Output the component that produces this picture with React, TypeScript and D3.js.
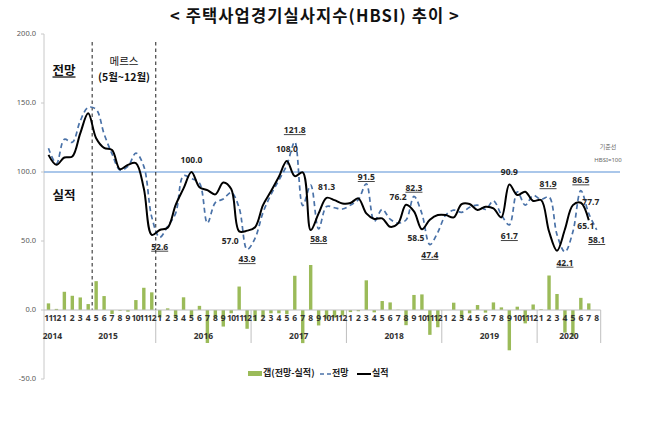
import React from 'react';
import * as d3 from 'd3';

const years = ['2014', '2015', '2016', '2017', '2018', '2019', '2020'];
const yearMonthCounts = [2, 12, 12, 12, 12, 12, 8];
const monthLabels = [
  '11', '12',
  '1', '2', '3', '4', '5', '6', '7', '8', '9', '10', '11', '12',
  '1', '2', '3', '4', '5', '6', '7', '8', '9', '10', '11', '12',
  '1', '2', '3', '4', '5', '6', '7', '8', '9', '10', '11', '12',
  '1', '2', '3', '4', '5', '6', '7', '8', '9', '10', '11', '12',
  '1', '2', '3', '4', '5', '6', '7', '8', '9', '10', '11', '12',
  '1', '2', '3', '4', '5', '6', '7', '8',
];

// 실적 (actual)
const actual: (number | null)[] = [
  112.4, 105.2,
  110.5, 111.2, 128.0, 142.5, 124.5, 117.5, 116.0, 102.0, 105.2, 106.5, 88.0, 54.5,
  58.0, 59.6, 76.0, 88.1, 100.0, 89.0, 86.9, 83.8, 92.4, 87.6, 57.0, 57.5,
  60.0, 76.0, 86.0, 96.5, 108.0, 97.0, 99.7, 57.9, 70.0, 81.3, 79.6, 77.2,
  77.5, 80.9, 70.0, 66.0, 66.4, 60.3, 62.8, 76.2, 71.4, 58.5, 65.4, 68.8,
  68.8, 67.1, 76.8, 76.8, 72.4, 74.8, 73.6, 67.1, 90.9, 83.3, 85.7, 79.0,
  79.7, 56.9, 43.0, 58.5, 76.0, 77.7, 65.1, null,
];

// 전망 (forecast)
const forecast: (number | null)[] = [
  117.2, 106.0,
  123.7, 121.5, 137.1, 146.8, 145.4, 127.6, 113.1, 101.5, 104.0, 113.7, 104.1, 67.3,
  52.6, 60.8, 70.0, 97.3, 95.2, 92.0, 63.0, 77.8, 80.4, 85.2, 74.0, 43.9,
  52.0, 70.6, 83.6, 94.1, 105.0, 121.8, 75.7, 90.5, 58.8, 75.0, 74.1, 73.2,
  76.0, 80.0, 91.5, 64.3, 72.9, 65.8, 63.0, 65.2, 82.3, 69.8, 47.4, 56.3,
  68.8, 72.4, 70.8, 74.4, 76.0, 72.9, 79.1, 69.0, 61.7, 85.7, 76.0, 83.0,
  80.2, 81.9, 54.6, 42.1, 56.7, 86.5, 69.9, 58.1,
];

// 갭 (전망-실적)
const gap: (number | null)[] = [
  4.8, 0.8,
  13.2, 10.3, 9.1, 4.3, 20.9, 10.1, -2.9, -0.5, -1.2, 7.2, 16.1, 12.8,
  -5.4, 1.2, -6.0, 9.2, -4.8, 3.0, -23.9, -6.0, -12.0, -2.4, 17.0, -13.6,
  -8.0, -5.4, -2.4, -2.4, -3.0, 24.8, -24.0, 32.6, -11.2, -6.3, -5.5, -4.0,
  -1.5, -0.9, 21.5, -1.7, 6.5, 5.5, 0.2, -11.0, 10.9, 11.3, -18.0, -12.5,
  0.0, 5.3, -6.0, -2.4, 3.6, -1.9, 5.5, 1.9, -29.2, 2.4, -9.7, 4.0,
  0.5, 25.0, 11.6, -16.4, -19.3, 8.8, 4.8, null,
];

const yTicks = [200, 150, 100, 50, 0, -50];

// data labels: index, series ('F' forecast underlined, 'A' actual), offset of label centre
const dataLabels = [
  { i: 18, s: 'A', dx: 0, dy: -11.5 },
  { i: 14, s: 'F', dx: 0, dy: 10 },
  { i: 24, s: 'A', dx: -9, dy: 10 },
  { i: 25, s: 'F', dx: 0, dy: 10.5 },
  { i: 30, s: 'A', dx: 0, dy: -11 },
  { i: 31, s: 'F', dx: 0, dy: -11 },
  { i: 34, s: 'F', dx: 0, dy: 11 },
  { i: 35, s: 'A', dx: 0, dy: -10 },
  { i: 40, s: 'F', dx: 0, dy: -6 },
  { i: 45, s: 'A', dx: -8, dy: -7 },
  { i: 46, s: 'F', dx: 0, dy: -8 },
  { i: 47, s: 'A', dx: -6, dy: 9 },
  { i: 48, s: 'F', dx: 0, dy: 11 },
  { i: 58, s: 'A', dx: 0, dy: -12 },
  { i: 58, s: 'F', dx: 0, dy: 12 },
  { i: 63, s: 'F', dx: -1, dy: -12 },
  { i: 65, s: 'F', dx: 0, dy: 11.5 },
  { i: 67, s: 'F', dx: 0, dy: -9.5 },
  { i: 67, s: 'A', dx: 10, dy: 0 },
  { i: 68, s: 'A', dx: -3, dy: 7 },
  { i: 69, s: 'F', dx: 0, dy: 11 },
];

const KR = '"Noto Sans CJK KR", "Noto Sans", sans-serif';
const NUM = '"Noto Sans", "Liberation Sans", Arial, sans-serif';

export default function App() {
  const W = 658;
  const H = 423;
  const idx = d3.range(monthLabels.length);
  const x = d3.scaleBand<number>().domain(idx).range([44.5, 600.7]).padding(0);
  const bw = x.bandwidth();
  const cx = (i: number) => (x(i) as number) + bw / 2;
  const y = d3.scaleLinear().domain([-50, 200]).range([379, 34]);

  const curve = d3.curveCatmullRom.alpha(0.5);
  const lineGen = d3
    .line<number | null>()
    .defined((d) => d != null)
    .x((_, i) => cx(i))
    .y((d) => y(d as number))
    .curve(curve);

  const actualPath = lineGen(actual) || '';
  const forecastPath = lineGen(forecast) || '';

  // year boundaries
  const boundaries: number[] = [];
  let acc = 0;
  const yearCenters: number[] = [];
  yearMonthCounts.forEach((n) => {
    const start = x(acc) as number;
    acc += n;
    const end = acc < idx.length ? (x(acc) as number) : 600.7;
    yearCenters.push((start + end) / 2);
    boundaries.push(end);
  });

  const x0 = 44;
  const axisY = y(0);
  const barW = 3.4;

  return (
    <svg
      width={W}
      height={H}
      style={{ position: 'absolute', left: 0, top: 0, background: '#fff' }}
    >
      <rect x={0} y={0} width={W} height={H} fill="#fff" />
      {/* title */}
      <text
        x={315}
        y={18}
        textAnchor="middle"
        dominantBaseline="middle"
        fontFamily={KR}
        fontWeight={700}
        fontSize={16.5}
        letterSpacing={1.1}
        fill="#111"
      >
        {'<  주택사업경기실사지수(HBSI)  추이  >'}
      </text>

      {/* y axis */}
      <line x1={x0} x2={x0} y1={y(200)} y2={y(-50)} stroke="#c8c8c8" strokeWidth={1} />
      {yTicks.map((t) => (
        <g key={t}>
          <line x1={x0 - 3} x2={x0} y1={y(t)} y2={y(t)} stroke="#c8c8c8" />
          <text
            x={36}
            y={y(t)}
            textAnchor="end"
            dominantBaseline="middle"
            fontFamily={NUM}
            fontSize={7.5}
            fill="#595959"
          >
            {t.toFixed(1)}
          </text>
        </g>
      ))}

      {/* reference line 100 */}
      <line x1={x0} x2={620} y1={y(100)} y2={y(100)} stroke="#8eb4e3" strokeWidth={1.3} />
      <text x={608} y={147} textAnchor="middle" dominantBaseline="middle" fontFamily={KR} fontSize={6} fill="#666">
        기준선
      </text>
      <text x={608} y={160} textAnchor="middle" dominantBaseline="middle" fontFamily={NUM} fontSize={6} fill="#666">
        HBSI=100
      </text>

      {/* MERS dashed lines */}
      {[6, 14].map((k) => (
        <line
          key={k}
          x1={x(k) as number}
          x2={x(k) as number}
          y1={42}
          y2={axisY}
          stroke="#333"
          strokeWidth={1.1}
          strokeDasharray="3.5,3"
        />
      ))}

      {/* bars */}
      {gap.map((g, i) =>
        g == null ? null : (
          <rect
            key={i}
            x={cx(i) - barW / 2}
            y={Math.min(y(g), axisY)}
            width={barW}
            height={Math.abs(y(g) - axisY)}
            fill="#9bbb59"
          />
        )
      )}

      {/* category axis */}
      <line x1={x0} x2={600.7} y1={axisY} y2={axisY} stroke="#bfbfbf" strokeWidth={1} />
      {boundaries.slice(1).map((b, k) => (
        <line key={k} x1={b} x2={b} y1={axisY} y2={343} stroke="#bfbfbf" strokeWidth={1} />
      ))}
      {monthLabels.map((m, i) => (
        <text
          key={i}
          x={cx(i)}
          y={319}
          textAnchor="middle"
          dominantBaseline="middle"
          fontFamily={NUM}
          fontWeight={700}
          fontSize={8.5}
          letterSpacing={m.length > 1 ? -0.6 : 0}
          fill="#333"
        >
          {m}
        </text>
      ))}
      {years.map((yr, k) => (
        <text
          key={yr}
          x={yearCenters[k]}
          y={337}
          textAnchor="middle"
          dominantBaseline="middle"
          fontFamily={NUM}
          fontWeight={700}
          fontSize={8.5}
          fill="#333"
        >
          {yr}
        </text>
      ))}

      {/* lines */}
      <path d={forecastPath} fill="none" stroke="#4a72a8" strokeWidth={1.7} strokeDasharray="5,3.5" />
      <path d={actualPath} fill="none" stroke="#000" strokeWidth={2} />

      {/* data labels */}
      {dataLabels.map((l, k) => {
        const v = (l.s === 'F' ? forecast[l.i] : actual[l.i]) as number;
        return (
          <text
            key={k}
            x={cx(l.i) + l.dx}
            y={y(v) + l.dy}
            textAnchor="middle"
            dominantBaseline="middle"
            fontFamily={NUM}
            fontWeight={700}
            fontSize={8.5}
            fill="#262626"
            textDecoration={l.s === 'F' ? 'underline' : undefined}
          >
            {v.toFixed(1)}
          </text>
        );
      })}

      {/* annotations */}
      <text x={64} y={72} textAnchor="middle" dominantBaseline="middle" fontFamily={KR} fontWeight={700} fontSize={12.5} fill="#111" textDecoration="underline">
        전망
      </text>
      <text x={64} y={197} textAnchor="middle" dominantBaseline="middle" fontFamily={KR} fontWeight={700} fontSize={12.5} fill="#111">
        실적
      </text>
      <text x={124} y={62} textAnchor="middle" dominantBaseline="middle" fontFamily={KR} fontSize={10.5} fill="#111">
        메르스
      </text>
      <text x={124} y={78} textAnchor="middle" dominantBaseline="middle" fontFamily={KR} fontWeight={700} fontSize={10.5} fill="#111">
        (5월~12월)
      </text>

      {/* legend */}
      <rect x={248} y={371} width={14} height={5} fill="#9bbb59" />
      <text x={263} y={374} dominantBaseline="middle" fontFamily={KR} fontWeight={700} fontSize={9} fill="#222">
        갭(전망-실적)
      </text>
      <line x1={320} x2={331} y1={374} y2={374} stroke="#4a72a8" strokeWidth={1.7} strokeDasharray="4,3" />
      <text x={332} y={374} dominantBaseline="middle" fontFamily={KR} fontWeight={700} fontSize={9} fill="#222">
        전망
      </text>
      <line x1={357} x2={371} y1={374} y2={374} stroke="#000" strokeWidth={2} />
      <text x={372} y={374} dominantBaseline="middle" fontFamily={KR} fontWeight={700} fontSize={9} fill="#222">
        실적
      </text>
    </svg>
  );
}
